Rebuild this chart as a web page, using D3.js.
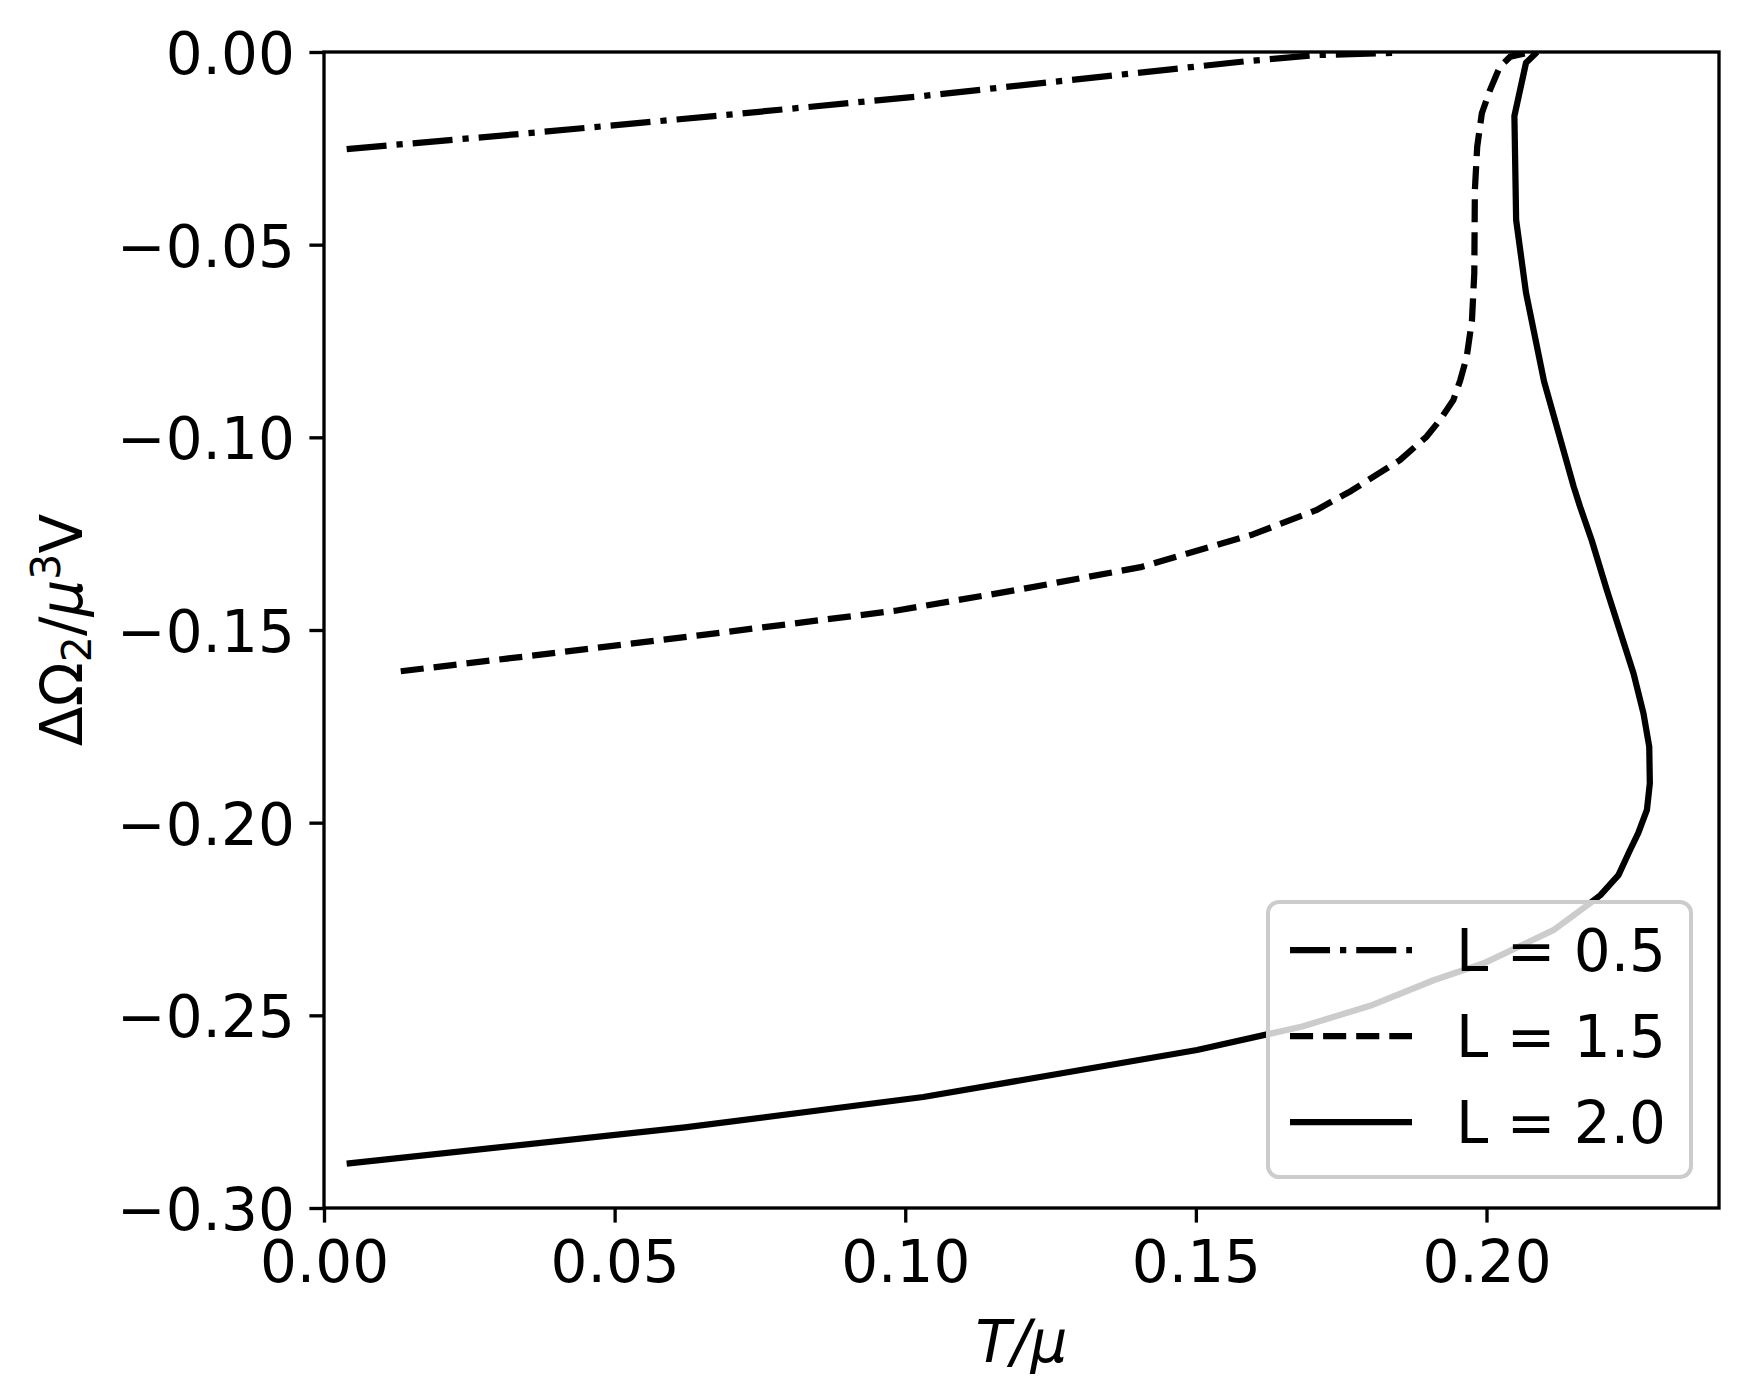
<!DOCTYPE html>
<html>
<head>
<meta charset="utf-8">
<script src="https://cdn.jsdelivr.net/npm/d3@7"></script>
<style>
  body { margin: 0; background: #fff; }
  text { font-family: "DejaVu Sans", sans-serif; fill: #000; }
</style>
</head>
<body>
<div id="chart"></div>
<script>
// data
var seriesLabels = ["L = 0.5", "L = 1.5", "L = 2.0"];

var tL05 = [0.0039, 0.0349, 0.0687, 0.1031, 0.1369, 0.1586, 0.1707, 0.1845];
var vL05 = [-0.0252, -0.0211, -0.0164, -0.0114, -0.0059, -0.0024, -0.0008, -0.0002];

var tL15 = [0.0132, 0.0355, 0.0645, 0.0983, 0.1200, 0.1405, 0.1598, 0.1707, 0.1767, 0.1851,
            0.1897, 0.1920, 0.1943, 0.1955, 0.1966, 0.1975, 0.1979, 0.1980, 0.1984, 0.1992,
            0.2006, 0.2023, 0.2041, 0.2078];
var vL15 = [-0.1607, -0.1567, -0.1514, -0.1450, -0.1394, -0.1337, -0.1252, -0.1189, -0.1139, -0.1059,
            -0.0998, -0.0955, -0.0903, -0.0851, -0.0791, -0.0696, -0.0574, -0.0358, -0.0246, -0.0159,
            -0.0099, -0.0038, -0.0012, 0.0];

var tL20 = [0.0039, 0.0621, 0.1031, 0.1502, 0.1683, 0.1804, 0.1909, 0.1995, 0.2115, 0.2178,
            0.2196, 0.2227, 0.2247, 0.2261, 0.2276, 0.2281, 0.2280, 0.2270, 0.2253, 0.2207,
            0.2181, 0.2161, 0.2150, 0.2099, 0.2068, 0.2051, 0.2048, 0.2068, 0.2087];
var vL20 = [-0.2885, -0.2791, -0.2712, -0.2590, -0.2529, -0.2473, -0.2409, -0.2365, -0.2279, -0.2209,
            -0.2188, -0.2136, -0.2071, -0.2027, -0.1967, -0.1898, -0.1803, -0.1716, -0.1613, -0.1396,
            -0.1267, -0.1180, -0.1128, -0.0855, -0.0625, -0.0436, -0.0166, -0.0028, 0.0];

var xTicks = [0.00, 0.05, 0.10, 0.15, 0.20];
var yTicks = [0.00, -0.05, -0.10, -0.15, -0.20, -0.25, -0.30];

function main(){
    //Width and height
    var w = 1748;
    var h = 1400;
    var left = 324, right = 1719, top = 52, bottom = 1208;

    var lw = 6.25;
    var dashes = ["40,10,6.25,10", "23.1,10", null];

    var xScale = d3.scaleLinear()
                   .domain([0, 0.24])
                   .range([left, right]);

    var yScale = d3.scaleLinear()
                   .domain([-0.30, 0])
                   .range([bottom, top]);

    var fmt = d3.format(".2f");

    var svg = d3.select("#chart")
                .append("svg")
                .attr("width", w)
                .attr("height", h);

    svg.append("defs").append("clipPath")
       .attr("id", "plot-clip")
       .append("rect")
       .attr("x", left)
       .attr("y", top)
       .attr("width", right - left)
       .attr("height", bottom - top);

    var series = [
        {t: tL05, v: vL05},
        {t: tL15, v: vL15},
        {t: tL20, v: vL20}
    ];

    var line = d3.line()
                 .x(function(d) { return xScale(d[0]); })
                 .y(function(d) { return yScale(d[1]); });

    //Curves
    var curves = svg.append("g").attr("clip-path", "url(#plot-clip)");
    series.forEach(function(s, i) {
        var pts = s.t.map(function(t, j) { return [t, s.v[j]]; });
        curves.append("path")
              .datum(pts)
              .attr("d", line)
              .attr("fill", "none")
              .attr("stroke", "#000")
              .attr("stroke-width", lw)
              .attr("stroke-dasharray", dashes[i])
              .attr("stroke-linecap", "butt")
              .attr("stroke-linejoin", "round");
    });

    //Create X axis
    var xAxis = d3.axisBottom(xScale)
                  .tickValues(xTicks)
                  .tickFormat(fmt)
                  .tickSize(14.6)
                  .tickPadding(14.6)
                  .tickSizeOuter(0);

    var gx = svg.append("g")
                .attr("transform", "translate(0," + bottom + ")")
                .call(xAxis);
    gx.select(".domain").remove();
    gx.selectAll("line").attr("stroke-width", 3.33);
    gx.selectAll("text")
      .attr("font-size", 58)
      .attr("dy", "0.77em");

    //Create Y axis
    var yAxis = d3.axisLeft(yScale)
                  .tickValues(yTicks)
                  .tickFormat(fmt)
                  .tickSize(14.6)
                  .tickPadding(14.6)
                  .tickSizeOuter(0);

    var gy = svg.append("g")
                .attr("transform", "translate(" + left + ",0)")
                .call(yAxis);
    gy.select(".domain").remove();
    gy.selectAll("line").attr("stroke-width", 3.33);
    gy.selectAll("text")
      .attr("font-size", 58)
      .attr("dy", "0.37em");

    //Frame
    svg.append("rect")
       .attr("x", left)
       .attr("y", top)
       .attr("width", right - left)
       .attr("height", bottom - top)
       .attr("fill", "none")
       .attr("stroke", "#000")
       .attr("stroke-width", 3.33);

    //Axis labels
    var xl = svg.append("text")
                .attr("x", (left + right) / 2)
                .attr("y", 1362)
                .attr("text-anchor", "middle")
                .attr("font-size", 58)
                .attr("font-style", "italic");
    xl.text("T/μ");

    var yl = svg.append("text")
                .attr("transform", "translate(82," + ((top + bottom) / 2) + ") rotate(-90)")
                .attr("text-anchor", "middle")
                .attr("font-size", 58);
    yl.append("tspan").text("ΔΩ");
    yl.append("tspan").attr("font-size", 41).attr("dy", 9).text("2");
    yl.append("tspan").attr("dy", -9).text("/");
    yl.append("tspan").attr("font-style", "italic").text("μ");
    yl.append("tspan").attr("font-size", 41).attr("dy", -22).text("3");
    yl.append("tspan").attr("dy", 22).text("V");

    //Legend
    var lg = svg.append("g");
    lg.append("rect")
      .attr("x", 1268)
      .attr("y", 902)
      .attr("width", 423)
      .attr("height", 275)
      .attr("rx", 11)
      .attr("fill", "#fff")
      .attr("fill-opacity", 0.8)
      .attr("stroke", "#cccccc")
      .attr("stroke-width", 4);

    var rowY = [950, 1036, 1122];
    seriesLabels.forEach(function(lab, i) {
        lg.append("line")
          .attr("x1", 1290)
          .attr("x2", 1412)
          .attr("y1", rowY[i])
          .attr("y2", rowY[i])
          .attr("stroke", "#000")
          .attr("stroke-width", lw)
          .attr("stroke-dasharray", dashes[i]);
        lg.append("text")
          .attr("x", 1456)
          .attr("y", rowY[i] + 21)
          .attr("font-size", 58)
          .text(lab);
    });
}

main();
</script>
</body>
</html>
